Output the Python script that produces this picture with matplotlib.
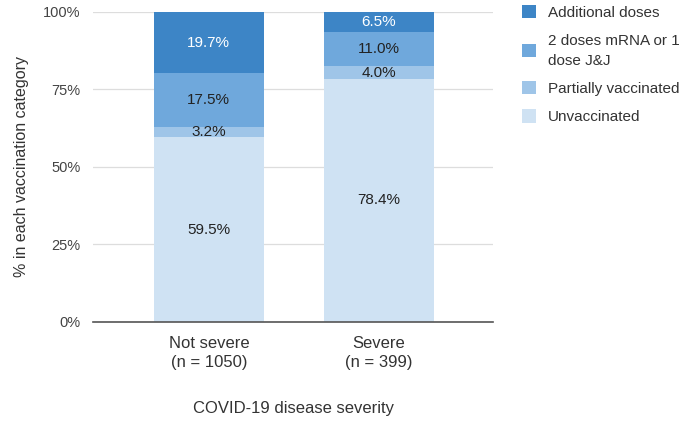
import matplotlib

matplotlib.use("Agg")
import matplotlib.pyplot as plt
from matplotlib.patches import Patch

plt.rcParams["font.family"] = ["Liberation Sans", "DejaVu Sans"]

categories = ["Not severe\n(n = 1050)", "Severe\n(n = 399)"]
series_names = ["Unvaccinated", "Partially vaccinated",
                "2 doses mRNA or 1\ndose J&J", "Additional doses"]
unvaccinated = [59.5, 78.4]
partial = [3.2, 4.0]
two_doses = [17.5, 11.0]
additional = [19.7, 6.5]

colors = ["#cfe2f3", "#9fc5e8", "#6fa8dc", "#3d85c6"]
text_colors = ["#222222", "#222222", "#222222", "white"]

fig = plt.figure(figsize=(6.8, 4.23), dpi=100)
ax = fig.add_axes([0.137, 0.239, 0.588, 0.733])

x = list(range(len(categories)))
bottom = [0.0] * len(categories)
for vals, color, tc in zip([unvaccinated, partial, two_doses, additional], colors, text_colors):
    ax.bar(x, vals, bottom=bottom, width=0.65, color=color, zorder=2)
    for xi, b, v in zip(x, bottom, vals):
        ax.text(xi, b + v / 2, f"{v:.1f}%", ha="center", va="center",
                fontsize=11, color=tc, zorder=3)
    bottom = [b + v for b, v in zip(bottom, vals)]

ax.set_xlim(-0.68, 1.67)
ax.set_ylim(0, 100)
ax.set_yticks([0, 25, 50, 75, 100])
ax.set_yticklabels(["0%", "25%", "50%", "75%", "100%"])
ax.set_xticks(x)
ax.set_xticklabels(categories, fontsize=12, color="#333333", linespacing=1.35)
ax.tick_params(axis="y", length=0, pad=9, labelsize=10.5, labelcolor="#444444")
ax.tick_params(axis="x", length=0, pad=10)
ax.grid(axis="y", color="#dddddd", lw=0.9, zorder=0)
for s in ["top", "right", "left"]:
    ax.spines[s].set_visible(False)
ax.spines["bottom"].set_color("#555555")
ax.spines["bottom"].set_linewidth(1.2)
ax.spines["bottom"].set_zorder(4)

ax.set_ylabel("% in each vaccination category", fontsize=11.5, color="#333333", labelpad=10)
ax.set_xlabel("COVID-19 disease severity", fontsize=12, color="#333333", labelpad=22)

handles = [Patch(facecolor=c, edgecolor="none") for c in colors][::-1]
leg = fig.legend(handles, series_names[::-1], loc="upper left",
                 bbox_to_anchor=(0.758, 1.002), frameon=False, fontsize=11,
                 handlelength=0.95, handleheight=0.95, handletextpad=0.75,
                 labelspacing=0.88, labelcolor="#333333", borderaxespad=0.0)
for t in leg.get_texts():
    t.set_linespacing(1.55)

fig.savefig("out.png", dpi=100)
